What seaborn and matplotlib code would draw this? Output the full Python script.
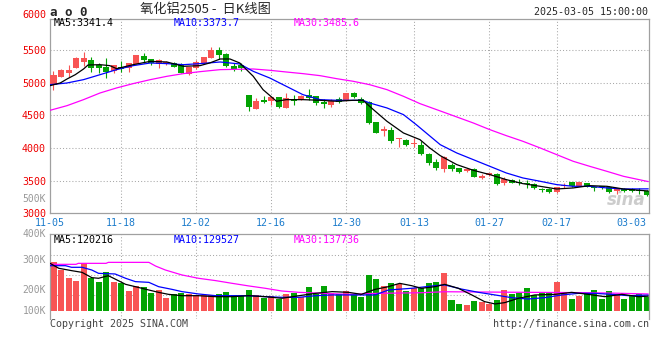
import matplotlib
matplotlib.use("Agg")
import matplotlib.pyplot as plt
import numpy as np
import pandas as pd
import seaborn as sns

# ---------------- data ----------------
date_labels = ["11-05", "11-18", "12-02", "12-16", "12-30", "01-13", "01-27", "02-17", "03-03"]
date_label_days = [0, 9, 19, 29, 39, 48, 58, 67, 77]

open_p = [4963, 5091, 5152, 5229, 5320, 5346, 5270, 5244, 5183, 5234,
          5219, 5285, 5407, 5361, 5285, 5285, 5305, 5270, 5127, 5218,
          5295, 5382, 5499, 5438, 5254, 5270, 4811, 4596, 4734, 4724,
          4775, 4617, 4734, 4749, 4811, 4795, 4709, 4658, 4744, 4734,
          4846, 4744, 4709, 4392, 4260, 4275, 4132, 4122, 4056, 4046,
          3908, 3785, 3680, 3740, 3699, 3648, 3673, 3546, 3587, 3597,
          3459, 3510, 3484, 3469, 3449, 3372, 3367, 3332, 3418, 3474,
          3423, 3469, 3408, 3408, 3408, 3342, 3367, 3367, 3357, 3342]
close_p = [5117, 5193, 5193, 5382, 5372, 5229, 5229, 5157, 5270, 5203,
           5305, 5422, 5346, 5295, 5346, 5320, 5244, 5152, 5234, 5320,
           5387, 5499, 5422, 5259, 5203, 5229, 4632, 4724, 4709, 4775,
           4632, 4760, 4724, 4800, 4760, 4693, 4673, 4724, 4709, 4846,
           4785, 4693, 4387, 4234, 4285, 4112, 4148, 4046, 4081, 3908,
           3775, 3689, 3862, 3673, 3638, 3678, 3561, 3576, 3612, 3444,
           3525, 3469, 3469, 3444, 3383, 3357, 3332, 3408, 3433, 3423,
           3484, 3408, 3393, 3398, 3332, 3383, 3347, 3347, 3342, 3280]
high_p = [5183, 5208, 5270, 5397, 5463, 5387, 5295, 5372, 5270, 5336,
          5305, 5422, 5458, 5361, 5356, 5336, 5320, 5295, 5234, 5346,
          5397, 5540, 5540, 5448, 5305, 5295, 4811, 4760, 4795, 4775,
          4785, 4836, 4811, 4811, 4897, 4795, 4744, 4744, 4785, 4846,
          4862, 4785, 4724, 4392, 4336, 4316, 4148, 4132, 4148, 4107,
          3918, 3836, 3877, 3765, 3699, 3689, 3689, 3597, 3622, 3612,
          3551, 3520, 3520, 3510, 3459, 3393, 3383, 3408, 3459, 3474,
          3484, 3469, 3418, 3408, 3418, 3383, 3393, 3383, 3383, 3357]
low_p = [4887, 5081, 5081, 5218, 5254, 5168, 5152, 5065, 5142, 5167,
         5168, 5285, 5295, 5270, 5218, 5270, 5234, 5142, 5122, 5203,
         5285, 5372, 5356, 5244, 5183, 5183, 4571, 4596, 4683, 4658,
         4617, 4617, 4658, 4734, 4734, 4658, 4607, 4632, 4693, 4724,
         4760, 4673, 4362, 4224, 4183, 4081, 4020, 4030, 4020, 3893,
         3740, 3663, 3630, 3653, 3622, 3638, 3551, 3520, 3571, 3433,
         3433, 3459, 3433, 3393, 3372, 3332, 3316, 3306, 3383, 3408,
         3423, 3398, 3347, 3367, 3316, 3296, 3332, 3327, 3296, 3265]
volume_k = [400, 332, 270, 243, 386, 270, 238, 319, 238, 224,
            162, 203, 197, 149, 167, 108, 135, 149, 135, 130,
            130, 130, 138, 154, 130, 121, 170, 130, 108, 121,
            97, 138, 149, 111, 194, 135, 203, 149, 138, 162,
            135, 116, 292, 259, 203, 227, 219, 162, 189, 184,
            227, 235, 308, 89, 57, 49, 81, 73, 54, 89,
            170, 138, 149, 186, 130, 154, 149, 235, 149, 97,
            121, 149, 170, 97, 162, 130, 97, 121, 138, 116]

# moving-average lines (day position, value)
ma5_day = [-0.45, 0.9, 1.8, 2.9, 4, 4.6, 6.2, 7.5, 8.4, 10.6, 12.9, 15.1, 17.3, 19.5, 20.8,
           22.2, 23.5, 24.8, 26.6, 27.9, 29.7, 31, 33.2, 35.5, 37.7, 39.9, 41.2, 42.6, 44.4,
           46.6, 48.8, 50.1, 51.5, 53.7, 55.9, 58.1, 60.3, 62.5, 64.8, 67, 69.2, 71.4, 73.7,
           75.9, 79.2]
ma5_val = [4953, 4994, 5055, 5121, 5208, 5269, 5274, 5259, 5213, 5274, 5325, 5315, 5249, 5259,
           5300, 5361, 5361, 5300, 5096, 4892, 4714, 4739, 4739, 4729, 4714, 4729, 4729, 4586,
           4408, 4229, 4127, 4000, 3882, 3745, 3658, 3592, 3515, 3454, 3413, 3372, 3388, 3423,
           3413, 3372, 3341]
ma10_day = [-0.45, 1.8, 4, 6.2, 8.4, 10.6, 12.9, 15.1, 17.3, 19.5, 22.2, 23.5, 24.8, 26.6, 28.8,
            31, 33.2, 35.5, 37.7, 39.9, 41.2, 42.1, 44.4, 46.6, 48.3, 51.5, 53.7, 55.9, 58.1,
            60.3, 62.5, 64.8, 67, 69.2, 71.4, 73.7, 75.9, 79.2]
ma10_val = [4968, 4994, 5045, 5121, 5198, 5259, 5300, 5290, 5274, 5290, 5315, 5300, 5285, 5172,
            5070, 4943, 4816, 4739, 4729, 4729, 4729, 4688, 4612, 4510, 4357, 4050, 3923, 3821,
            3719, 3617, 3541, 3490, 3439, 3413, 3413, 3388, 3372, 3374]
ma30_day = [-0.45, 1.8, 4, 6.2, 8.4, 10.6, 12.9, 15.1, 17.3, 19.5, 22.2, 26.6, 28.8, 31, 33.2,
            35.5, 37.7, 39.9, 42.1, 44.4, 46.6, 48.8, 51.5, 53.7, 55.9, 58.1, 60.3, 62.5, 64.8,
            67, 69.2, 71.4, 73.7, 75.9, 79.2]
ma30_val = [4576, 4647, 4739, 4841, 4918, 4984, 5045, 5096, 5137, 5167, 5198, 5208, 5188, 5162,
            5137, 5106, 5060, 5020, 4968, 4892, 4790, 4678, 4566, 4474, 4382, 4280, 4188, 4102,
            4000, 3898, 3796, 3719, 3642, 3566, 3485]

vma5_day = [-0.45, 0.7, 2.4, 3.8, 5.1, 6, 7.3, 8.2, 9.6, 10.9, 12.7, 14, 15.3, 17.1, 19.3, 21.6,
            23.8, 26, 28.2, 30.4, 32.7, 34.9, 37.1, 39.3, 41, 42.8, 44.6, 46.1, 47.7, 49, 50.8,
            52.1, 53.9, 55.7, 57.4, 58.8, 60.1, 61.9, 64.1, 66.8, 69, 71.2, 73.4, 75.7, 77.9, 79.2]
vma5_val = [386, 346, 327, 313, 270, 265, 286, 259, 216, 197, 170, 151, 135, 124, 124, 116,
            116, 124, 116, 103, 124, 143, 157, 151, 135, 175, 197, 224, 205, 184, 197,
            216, 184, 130, 76, 57, 68, 103, 130, 135, 151, 135, 116, 135, 116, 120]
vma10_day = [-0.45, 1.6, 2.4, 3.8, 5.1, 6, 8.2, 9.6, 10.9, 12.7, 14, 15.8, 17.1, 19.3, 21.6, 26,
             28.2, 30.4, 32.7, 34.9, 37.1, 39.3, 42.8, 44.6, 47.7, 50.8, 52.1, 54.3, 56.6, 58.8,
             61, 63.2, 65.4, 67.7, 69.9, 72.1, 74.3, 76.6, 79.2]
vma10_val = [367, 367, 354, 354, 332, 305, 300, 265, 238, 232, 197, 175, 157, 138, 124, 124,
             116, 111, 111, 124, 130, 130, 130, 170, 184, 205, 211, 178, 151, 130,
             108, 97, 108, 130, 143, 143, 135, 124, 129]
vma30_day = [-0.45, 3.0, 3.3, 7.0, 7.3, 12.7, 13.6, 14.9, 17.1, 19.3, 21.6, 23.8, 26, 28.2, 30.4,
             32.7, 34.9, 37.1, 39.3, 43.2, 49, 52.1, 61, 69.9, 74.3, 79.2]
vma30_val = [378, 378, 386, 386, 394, 394, 364, 332, 292, 265, 246, 224, 203, 184, 162,
             151, 146, 140, 135, 143, 148, 156, 152, 149, 145, 138]

price_ticks = [3000, 3500, 4000, 4500, 5000, 5500]
vol_axis_labels = ["500K", "400K", "300K", "200K", "100K"]

# ---------------- style ----------------
sns.set_style("white")
MONO = ["DejaVu Sans Mono", "Noto Sans CJK SC"]
plt.rcParams["font.family"] = MONO
RED = "#f85454"
GREEN = "#03a303"
BORDER = "#a0a0a0"
GRID = "#a8a8a8"
TXT_RED = "#ee0000"
BLUE_TXT = "#1c7ccc"
FS = 7.2

W, H = 660, 360
fig = plt.figure(figsize=(W / 100, H / 100), dpi=100)
fig.patch.set_facecolor("white")


def fx(px):
    return px / W


def fy(py):
    return 1 - py / H


def ftext(px, py, s, **kw):
    kw.setdefault("fontsize", FS)
    kw.setdefault("va", "center")
    fig.text(fx(px), fy(py), s, **kw)


ax = fig.add_axes([fx(50), fy(213.3), fx(649) - fx(50), (213.3 - 19) / H])
axv = fig.add_axes([fx(50), fy(319), fx(649) - fx(50), (319 - 234) / H])

n = len(close_p)
days = np.arange(n)
o = np.array(open_p, float)
c = np.array(close_p, float)
up = c > o
cols = np.where(up, RED, GREEN)

x_left = -0.466
x_right = 79.3

# ---- main panel ----
for v in price_ticks[1:]:
    ax.axhline(v, color=GRID, lw=0.75, ls=(0, (1, 2)), zorder=1)
for d in date_label_days[1:-1]:
    ax.axvline(d, color=GRID, lw=0.75, ls=(0, (1, 2)), zorder=1)

ax.vlines(days, low_p, high_p, colors=cols, lw=0.8, zorder=3)
body_lo = np.minimum(o, c)
body_h = np.maximum(np.abs(c - o), 14)
ax.bar(days, body_h, bottom=body_lo, width=0.8, color=cols, lw=0, zorder=4)

sns.lineplot(x=ma30_day, y=ma30_val, color="#ff00ff", lw=0.9, estimator=None, sort=False, ax=ax, zorder=5)
sns.lineplot(x=ma10_day, y=ma10_val, color="#0000ff", lw=0.9, estimator=None, sort=False, ax=ax, zorder=6)
sns.lineplot(x=ma5_day, y=ma5_val, color="#000000", lw=0.9, estimator=None, sort=False, ax=ax, zorder=7)

ax.set_xlim(x_left, x_right)
ax.set_ylim(3000, 3000 + (213.3 - 19) * 15.3)
ax.set_yticks(price_ticks)
ax.set_yticklabels([str(v) for v in price_ticks])
label_pos = [x_left] + date_label_days[1:]
ax.set_xticks(label_pos)
ax.set_xticklabels(date_labels)
ax.tick_params(axis="y", length=0, pad=3, labelsize=FS, labelcolor=TXT_RED)
ax.tick_params(axis="x", length=0, pad=3.2, labelsize=FS, labelcolor=BLUE_TXT)
ax.set_xlabel("")
ax.set_ylabel("")
for s in ax.spines.values():
    s.set_color(BORDER)
    s.set_linewidth(0.9)

ax.text(0.995, 0.07, "sina", transform=ax.transAxes, ha="right", va="center",
        fontsize=12, fontstyle="italic", fontweight="bold", color="#c4c4c4",
        family="DejaVu Sans", alpha=0.85, zorder=2)

# ---- volume panel ----
for v in [130, 292, 454]:
    axv.axhline(v, color=GRID, lw=0.75, ls=(0, (1, 2)), zorder=0)
for d in date_label_days[1:-1]:
    axv.axvline(d, color=GRID, lw=0.75, ls=(0, (1, 2)), zorder=0)

vdf = pd.DataFrame({"day": days, "vol": volume_k, "dir": np.where(up, "up", "down")})
sns.barplot(data=vdf, x="day", y="vol", hue="dir", palette={"up": RED, "down": GREEN},
            native_scale=True, width=0.8, dodge=False, legend=False, errorbar=None,
            saturation=1, linewidth=0, ax=axv, zorder=2)
sns.lineplot(x=vma30_day, y=vma30_val, color="#ff00ff", lw=0.9, estimator=None, sort=False, ax=axv, zorder=5)
sns.lineplot(x=vma10_day, y=vma10_val, color="#0000ff", lw=0.9, estimator=None, sort=False, ax=axv, zorder=6)
sns.lineplot(x=vma5_day, y=vma5_val, color="#000000", lw=0.9, estimator=None, sort=False, ax=axv, zorder=7)

axv.set_xlim(x_left, x_right)
axv.set_ylim(-8 * 8.1, 77 * 8.1)
axv.set_xticks([])
axv.set_yticks([])
axv.set_xlabel("")
axv.set_ylabel("")
for s in axv.spines.values():
    s.set_color(BORDER)
    s.set_linewidth(0.9)
axv.spines["bottom"].set_visible(False)

# ---- texts ----
ftext(50, 12, "a o 0", fontweight="bold", fontsize=9)
ftext(140, 10, "氧化铝2505 -  日K线图", fontsize=9.5,
      family=["Noto Sans CJK SC", "DejaVu Sans"])
ftext(648, 12, "2025-03-05 15:00:00", ha="right")
ftext(46, 15, "6000", ha="right", color=TXT_RED)

ftext(54, 23, "MA5:3341.4", color="black")
ftext(174, 23, "MA10:3373.7", color="#0000ff")
ftext(294, 23, "MA30:3485.6", color="#ff00ff")

ftext(54, 240, "MA5:120216", color="black")
ftext(174, 240, "MA10:129527", color="#0000ff")
ftext(294, 240, "MA30:137736", color="#ff00ff")

for lab, py in zip(vol_axis_labels, [199.5, 234, 260, 290, 311]):
    ftext(46, py, lab, ha="right", color="#999999", fontsize=7)

ftext(50, 324, "Copyright 2025 SINA.COM", color="#444444")
ftext(649, 324, "http://finance.sina.com.cn", ha="right", color="#444444")

fig.savefig("out.png", dpi=100, facecolor="white")
